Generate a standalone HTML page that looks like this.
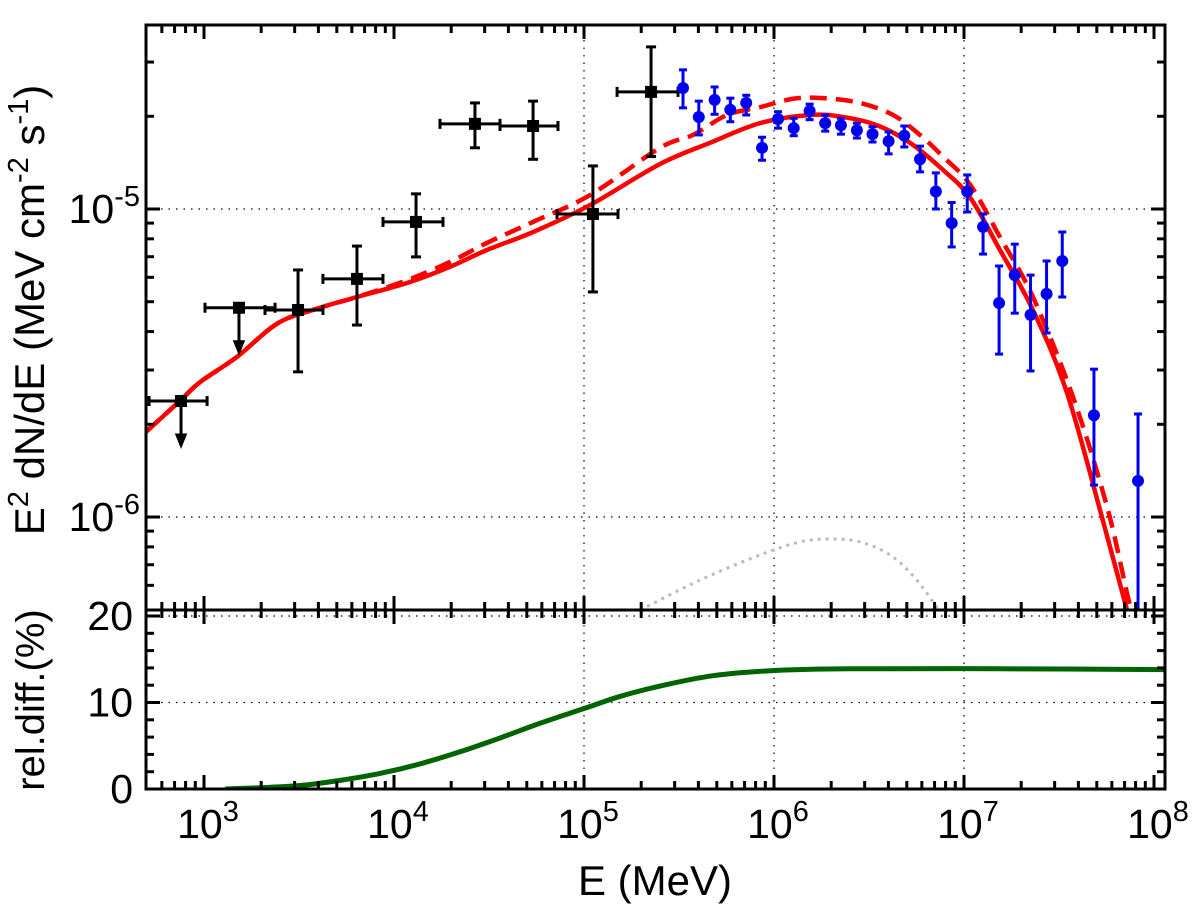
<!DOCTYPE html>
<html><head><meta charset="utf-8"><style>
html,body{margin:0;padding:0;background:#fff;}
svg{display:block;font-family:"Liberation Sans",sans-serif;}
</style></head><body>
<svg id="chart" width="1200" height="908" viewBox="0 0 1200 908" xmlns="http://www.w3.org/2000/svg"></svg>
<script>
// ---- data ----
const blackE = [757,1528,3126,6383,13060,26670,53950,111400,225400];
const blackElo = [514,1012,2094,4227,8750,17460,36140,72110,149300];
const blackEhi = [1038,2366,4227,8750,18110,36140,72950,151000,312600];
const blackF = [2.38e-6,4.78e-6,4.70e-6,5.93e-6,9.08e-6,1.89e-5,1.86e-5,9.63e-6,2.40e-5];
const blackFhi = [null,null,6.34e-6,7.58e-6,1.12e-5,2.21e-5,2.24e-5,1.38e-5,3.36e-5];
const blackFlo = [null,null,2.96e-6,4.20e-6,6.99e-6,1.58e-5,1.45e-5,5.38e-6,1.48e-5];
const blackUL = [true,true,false,false,false,false,false,false,false];

const blueE = [3.32e5,4.02e5,4.87e5,5.89e5,7.14e5,8.65e5,1.05e6,1.27e6,1.54e6,1.86e6,2.25e6,2.73e6,3.30e6,4.01e6,4.85e6,5.87e6,7.11e6,8.61e6,1.04e7,1.26e7,1.53e7,1.85e7,2.24e7,2.72e7,3.29e7,4.83e7,8.24e7];
const blueF = [2.47e-5,1.99e-5,2.26e-5,2.10e-5,2.21e-5,1.58e-5,1.96e-5,1.83e-5,2.08e-5,1.90e-5,1.87e-5,1.80e-5,1.75e-5,1.66e-5,1.73e-5,1.45e-5,1.14e-5,9.0e-6,1.14e-5,8.75e-6,4.95e-6,6.10e-6,4.53e-6,5.30e-6,6.78e-6,2.14e-6,1.31e-6];
const blueFhi = [2.83e-5,2.24e-5,2.49e-5,2.29e-5,2.34e-5,1.71e-5,2.07e-5,1.97e-5,2.19e-5,2.02e-5,1.97e-5,1.90e-5,1.85e-5,1.78e-5,1.86e-5,1.60e-5,1.31e-5,1.05e-5,1.29e-5,9.64e-6,6.53e-6,7.69e-6,6.10e-6,6.78e-6,8.42e-6,3.02e-6,2.16e-6];
const blueFlo = [2.13e-5,1.74e-5,2.03e-5,1.92e-5,2.02e-5,1.44e-5,1.83e-5,1.73e-5,1.95e-5,1.79e-5,1.75e-5,1.70e-5,1.65e-5,1.51e-5,1.59e-5,1.32e-5,1.00e-5,7.53e-6,9.78e-6,7.14e-6,3.38e-6,4.59e-6,2.98e-6,3.96e-6,5.18e-6,1.27e-6,3.0e-7];

const solidE = [495,757,952,1491,2449,4083,6383,11700,19710,30830,53950,107600,251200,460300,843300,1.545e6,2.306e6,3.483e6,5.20e6,7.75e6,1.076e7,1.546e7,2.306e7,3.483e7,5.32e7,7.21e7,7.94e7];
const solidF = [1.89e-6,2.40e-6,2.74e-6,3.31e-6,4.26e-6,4.78e-6,5.18e-6,5.75e-6,6.49e-6,7.36e-6,8.42e-6,1.03e-5,1.40e-5,1.64e-5,1.90e-5,2.02e-5,1.99e-5,1.87e-5,1.64e-5,1.34e-5,1.09e-5,7.36e-6,4.70e-6,2.53e-6,1.00e-6,4.99e-7,3.99e-7];
const dashE = [495,757,952,1491,2449,4083,6383,11700,19710,30830,53950,107600,251200,375000,566000,843300,1.259e6,1.811e6,2.838e6,4.23e6,5.86e6,7.75e6,1.076e7,1.546e7,2.306e7,3.75e7,5.66e7,7.21e7,7.94e7];
const dashF = [1.89e-6,2.40e-6,2.74e-6,3.31e-6,4.26e-6,4.78e-6,5.18e-6,5.87e-6,6.73e-6,7.76e-6,9.08e-6,1.11e-5,1.58e-5,1.74e-5,2.02e-5,2.14e-5,2.28e-5,2.29e-5,2.21e-5,2.02e-5,1.74e-5,1.48e-5,1.20e-5,8.11e-6,5.18e-6,2.45e-6,1.08e-6,5.66e-7,4.46e-7];
const greyE = [197200,408000,843300,1.371e6,1.972e6,2.838e6,4.08e6,5.52e6,7.48e6];
const greyF = [4.99e-7,6.24e-7,7.53e-7,8.30e-7,8.49e-7,8.30e-7,7.53e-7,6.34e-7,4.92e-7];
const diffE = [1290,1972,3200,5200,8440,13700,22240,36140,58660,1e5,154600,251200,477500,1.01e6,2.51e6,1.546e7,1.14e8];
const diffV = [0.0,0.15,0.4,1.0,1.8,2.9,4.3,5.9,7.6,9.3,10.7,11.9,13.1,13.7,13.9,13.9,13.8];

const xDecades = [3,4,5,6,7,8];
const yDecades = [-5,-6];
const diffTicks = [0,10,20];

// ---- axes ----
const L=146,R=1165,T=25,M=610,B=789;
const X0=204, DX=190;
function xs(e){return X0+(Math.log10(e)-3)*DX;}
const Y5=209, DY=308;
function ys(f){return Y5-(Math.log10(f)+5)*DY;}
function yd(v){return 789-v*8.65;}

const svg=document.getElementById('chart');
const NS='http://www.w3.org/2000/svg';
function el(tag,attrs,parent){const e=document.createElementNS(NS,tag);for(const k in attrs)e.setAttribute(k,attrs[k]);(parent||svg).appendChild(e);return e;}
function smooth(px,py){
  let d='M'+px[0]+','+py[0];
  for(let i=0;i<px.length-1;i++){
    const x0=px[Math.max(i-1,0)],y0=py[Math.max(i-1,0)];
    const x1=px[i],y1=py[i],x2=px[i+1],y2=py[i+1];
    const x3=px[Math.min(i+2,px.length-1)],y3=py[Math.min(i+2,px.length-1)];
    d+=' C'+(x1+(x2-x0)/6)+','+(y1+(y2-y0)/6)+' '+(x2-(x3-x1)/6)+','+(y2-(y3-y1)/6)+' '+x2+','+y2;
  }
  return d;
}

const defs=el('defs',{});
const cp1=el('clipPath',{id:'top'},defs);el('rect',{x:L,y:T,width:R-L,height:M-T},cp1);
const cp2=el('clipPath',{id:'bot'},defs);el('rect',{x:L,y:M,width:R-L,height:B-M},cp2);

// grid
const grid=el('g',{stroke:'#000','stroke-width':1.2,'stroke-dasharray':'1.5,6'});


[5,6,7].forEach(d=>{const x=X0+(d-3)*DX;el('line',{x1:x,y1:T,x2:x,y2:M},grid);el('line',{x1:x,y1:M,x2:x,y2:B},grid);});
yDecades.forEach(d=>{const y=ys(Math.pow(10,d));el('line',{x1:L,y1:y,x2:R,y2:y},grid);});
[10,20].forEach(v=>{el('line',{x1:L,y1:yd(v),x2:R,y2:yd(v)},grid);});

// grey dotted curve
const gp=el('path',{d:smooth(greyE.map(xs),greyF.map(ys)),fill:'none',stroke:'#bbb','stroke-width':3,'stroke-dasharray':'3,5','clip-path':'url(#top)'});



// red curves
const sp=el('path',{d:smooth(solidE.map(xs),solidF.map(ys)),fill:'none',stroke:'#f00','stroke-width':4.5,'stroke-linejoin':'round','clip-path':'url(#top)'});


const dp=el('path',{d:smooth(dashE.map(xs),dashF.map(ys)),fill:'none',stroke:'#f00','stroke-width':4.5,'stroke-dasharray':'17,9','clip-path':'url(#top)'});



// black points
const bg=el('g',{stroke:'#000','stroke-width':3,'clip-path':'url(#top)'});


blackE.forEach((e,i)=>{
  const x=xs(e),y=ys(blackF[i]);
  const g=el('g',{},bg);
  
  
  const x1=xs(blackElo[i]),x2=xs(blackEhi[i]);
  el('line',{x1:x1,y1:y,x2:x2,y2:y},g);
  el('line',{x1:x1,y1:y-5,x2:x1,y2:y+5},g);
  el('line',{x1:x2,y1:y-5,x2:x2,y2:y+5},g);
  if(blackUL[i]){
    el('line',{x1:x,y1:y,x2:x,y2:y+42},g);
    el('path',{d:`M${x-4},${y+34} L${x+4},${y+34} L${x},${y+44} Z`,fill:'#000'},g);
  }else{
    const ya=ys(blackFhi[i]),yb=ys(blackFlo[i]);
    el('line',{x1:x,y1:ya,x2:x,y2:yb},g);
    el('line',{x1:x-5,y1:ya,x2:x+5,y2:ya},g);
    el('line',{x1:x-5,y1:yb,x2:x+5,y2:yb},g);
  }
  el('rect',{x:x-6,y:y-6,width:12,height:12,fill:'#000',stroke:'none'},g);
});

// blue points
const blg=el('g',{stroke:'#00e','stroke-width':3,'clip-path':'url(#top)'});


blueE.forEach((e,i)=>{
  const x=xs(e),y=ys(blueF[i]),ya=ys(blueFhi[i]),yb=ys(blueFlo[i]);
  const g=el('g',{},blg);
  
  
  el('line',{x1:x,y1:ya,x2:x,y2:yb},g);
  el('line',{x1:x-4,y1:ya,x2:x+4,y2:ya},g);
  el('line',{x1:x-4,y1:yb,x2:x+4,y2:yb},g);
  el('circle',{cx:x,cy:y,r:6,fill:'#00e',stroke:'none'},g);
});

// green rel diff
const grp=el('path',{d:smooth(diffE.map(xs),diffV.map(yd)),fill:'none',stroke:'#006400','stroke-width':5,'clip-path':'url(#bot)'});



// frames & ticks
const fr=el('g',{stroke:'#000','stroke-width':3,fill:'none'});


el('rect',{x:L,y:T,width:R-L,height:B-T},fr);
el('line',{x1:L,y1:M,x2:R,y2:M},fr);
for(let d=2;d<=8;d++){
  for(let m=1;m<=9;m++){
    const x=X0+(d-3+Math.log10(m))*DX;
    if(x<L+1||x>R-1)continue;
    const len=m===1?14:8;
    el('line',{x1:x,y1:T,x2:x,y2:T+len},fr);
    el('line',{x1:x,y1:M-len,x2:x,y2:M+len},fr);
    el('line',{x1:x,y1:B,x2:x,y2:B-len},fr);
  }
}
for(let d=-7;d<=-4;d++){
  for(let m=1;m<=9;m++){
    const y=ys(m*Math.pow(10,d));
    if(y<T+1||y>M-1)continue;
    const len=m===1?14:8;
    el('line',{x1:L,y1:y,x2:L+len,y2:y},fr);
    el('line',{x1:R,y1:y,x2:R-len,y2:y},fr);
  }
}
for(let v=0;v<=20;v+=2){
  const y=yd(v);const len=v%10===0?14:8;
  el('line',{x1:L,y1:y,x2:L+len,y2:y},fr);
  el('line',{x1:R,y1:y,x2:R-len,y2:y},fr);
}

// tick labels
xDecades.forEach(d=>{
  const x=X0+(d-3)*DX;
  const t=el('text',{x:x+4,y:838,'font-size':41,'text-anchor':'middle'});
  
  
  t.innerHTML='10<tspan dy="-17" font-size="29">'+d+'</tspan>';
});
yDecades.forEach(d=>{
  const y=ys(Math.pow(10,d));
  const t=el('text',{x:140,y:y+14,'font-size':41,'text-anchor':'end'});
  
  
  t.innerHTML='10<tspan dy="-17" font-size="29">'+d+'</tspan>';
});
diffTicks.forEach(v=>{
  const t=el('text',{x:133,y:yd(v)+14,'font-size':41,'text-anchor':'end'});
  
  
  t.textContent=v;
});

// axis titles
const xt=el('text',{x:655,y:895,'font-size':42,'text-anchor':'middle'});


xt.textContent='E (MeV)';
const yt=el('text',{transform:'translate(44,310) rotate(-90)','font-size':42,'text-anchor':'middle'});


yt.innerHTML='E<tspan dy="-16" font-size="29">2</tspan><tspan dy="16"> dN/dE (MeV cm</tspan><tspan dy="-16" font-size="29">-2</tspan><tspan dy="16"> s</tspan><tspan dy="-16" font-size="29">-1</tspan><tspan dy="16">)</tspan>';
const dt=el('text',{transform:'translate(44,700) rotate(-90)','font-size':40,'text-anchor':'middle'});


dt.textContent='rel.diff.(%)';
</script>
</body></html>
